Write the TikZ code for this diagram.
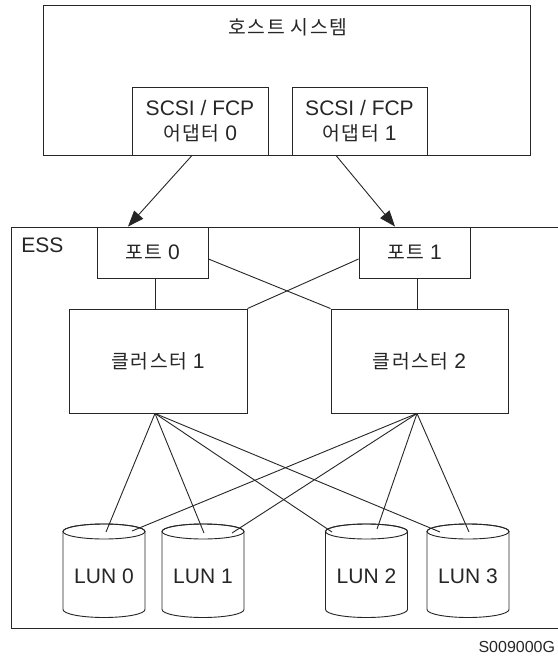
\documentclass[tikz,border=0pt]{standalone}
\usepackage{fontspec}
\setmainfont{Liberation Sans}
\newfontfamily\kr[Scale=0.92,LetterSpace=8]{Noto Sans CJK KR}
\usetikzlibrary{arrows.meta}
\definecolor{ln}{gray}{0.15}
\begin{document}
\begin{tikzpicture}[x=1pt,y=-1pt,line width=0.9pt,
  every node/.style={font=\fontsize{21}{25}\selectfont,text=ln,inner sep=0pt},
  box/.style={draw=ln,fill=white,line width=0.9pt},
  conn/.style={draw=ln,line width=0.9pt},
  arr/.style={conn,-{Triangle[length=16pt,width=12pt]}}]
\useasboundingbox (0,0) rectangle (557,658);
% host system
\node[box,minimum width=487,minimum height=150] (host) at (286.5,80) {};
\node (hostt) at (288,27) {\kr 호스트 시스템};
\node[box,minimum width=136,minimum height=68,align=center] (a0) at (200,121) {SCSI / FCP\\{\kr 어댑터} 0};
\node[box,minimum width=135,minimum height=68,align=center] (a1) at (359.5,121) {SCSI / FCP\\{\kr 어댑터} 1};
% ESS
\node[box,anchor=north west,minimum width=560,minimum height=401] (ess) at (11,227) {};
\node[anchor=base west] (esst) at (21,252) {ESS};
\node[box,minimum width=111,minimum height=51] (p0) at (152.5,252.5) {{\kr 포트} 0};
\node[box,minimum width=111,minimum height=51] (p1) at (414.5,252.5) {{\kr 포트} 1};
\node[box,minimum width=178,minimum height=104] (c1) at (158,361) {{\kr 클러스터} 1};
\node[box,minimum width=177,minimum height=104] (c2) at (419.5,361) {{\kr 클러스터} 2};
% LUN cylinders
\foreach \n/\cx/\lab in {lun0/104/LUN 0, lun1/203/LUN 1, lun2/366.5/LUN 2, lun3/468/LUN 3}{
  \draw[box] (\cx-41,531.5) -- (\cx-41,609.5)
    arc[start angle=180,end angle=0,x radius=41,y radius=8]
    -- (\cx+41,531.5)
    arc[start angle=0,end angle=-180,x radius=41,y radius=7.5] -- cycle;
  \draw[conn] (\cx,531.5) ellipse[x radius=41,y radius=7.5];
  \node (\n) at (\cx,576) {\lab};
}
\coordinate (l0a) at (106,532);
\coordinate (l0b) at (132,531);
\coordinate (l1a) at (204,533);
\coordinate (l1b) at (232,533);
\coordinate (l2a) at (332,532);
\coordinate (l2b) at (377,529);
\coordinate (l3a) at (440,532);
\coordinate (l3b) at (469,532);
% connectors
\draw[arr] (a0.south -| 192,0) -- (p0.north -| 128,0);
\draw[arr] (a1.south -| 336,0) -- (p1.north -| 395,0);
\draw[conn] (p0.south -| 155,0) -- (c1.north -| 155,0);
\draw[conn] (p1.south -| 417,0) -- (c2.north -| 417,0);
\draw[conn] (p0.east |- 0,259) -- (c2.north west);
\draw[conn] (p1.west |- 0,259) -- (c1.north east);
\foreach \t in {l0a,l1a,l2a,l3a}{\draw[conn] (c1.south -| 155,0) -- (\t);}
\foreach \t in {l0b,l1b,l2b,l3b}{\draw[conn] (c2.south -| 417,0) -- (\t);}
\node[anchor=base east,font=\fontsize{16}{20}\selectfont] (code) at (555.5,652) {S009000G};
\end{tikzpicture}
\end{document}
